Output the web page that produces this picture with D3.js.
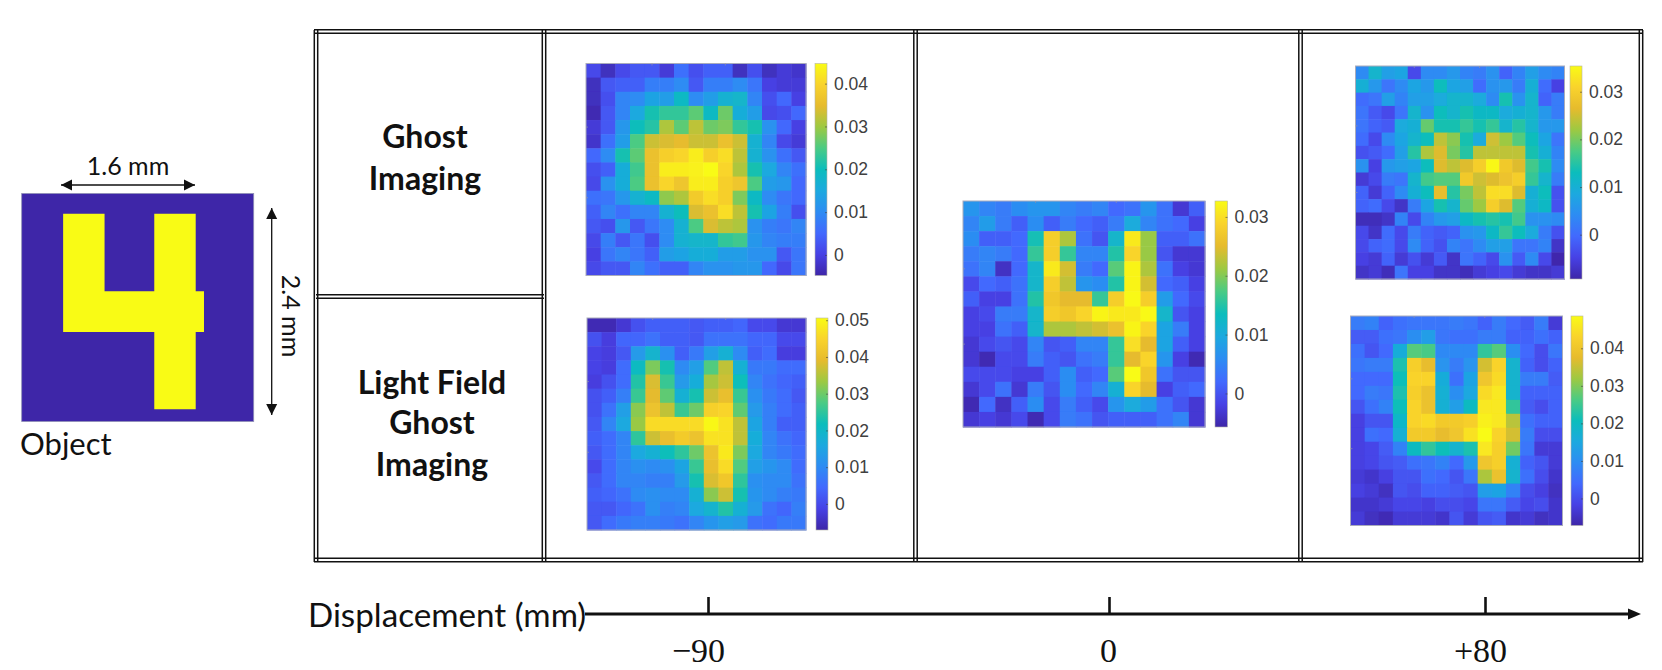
<!DOCTYPE html>
<html>
<head>
<meta charset="utf-8">
<script src="https://cdn.jsdelivr.net/npm/d3@7"></script>
<style>
  html, body { margin: 0; background: #fff; }
  svg { display: block; }
  .label { font-family: Lato, sans-serif; fill: #111; }
  .cbar text { font-family: "Liberation Sans", Arial, sans-serif; font-size: 17.5px; fill: #404040; }
  .cbar path { display: none; }
  .cbar line { stroke: #404040; stroke-width: .6; }
  .frame line { stroke: #111; stroke-width: 1.5; }
  .imgbox { fill: none; stroke: #a9abbb; stroke-width: 1; }
  .minor path { display: none; }
  .minor line { stroke: #8f90a8; stroke-width: .7; }
</style>
</head>
<body>
<svg id="chart" width="1662" height="670"></svg>
<script>
const ghostMinus90 = [
  [1,-3,1,3,3,-1,6,2,4,4,-3,2,-3,-1,-2],
  [-3,3,4,4,8,8,10,3,8,8,10,7,0,-1,-1],
  [-3,2,9,10,14,13,19,10,13,17,18,9,2,5,0],
  [-4,3,9,15,21,23,23,26,19,27,16,13,1,2,5],
  [-1,3,12,20,22,31,26,32,27,28,23,21,11,5,0],
  [-2,6,13,25,33,34,35,33,33,36,33,17,9,1,-1],
  [5,10,21,26,36,39,40,43,39,41,32,17,11,6,3],
  [2,4,16,24,36,43,43,43.5,44.7,40,31,21,15,9,6],
  [1,11,16,25,36,40,37,43,43,39,37,25,13,12,5],
  [6,7,12,17,19,29,31,38,41,39,28,19,10,7,5],
  [4,9,6,9,9,17,20,34,36,41,32,21,14,8,2],
  [3,2,12,3,7,10,17,25,34,32,31,11,8,7,9],
  [1,8,3,7,2,10,17,18,18,23,24,12,9,8,8],
  [0,7,9,7,4,13,14,16,16,13,13,11,11,3,7],
  [1,3,3,9,6,4,4,9,11,11,12,12,5,1,7]
];
const lightFieldMinus90 = [
  [-6,-6,-3,1,3,3,3,2,3,3,4,0,0,-3,-3],
  [1,-2,4,4,6,3,3,2,6,6,6,4,4,0,0],
  [-1,-2,2,13,19,11,3,7,14,18,10,3,5,-2,-2],
  [-1,-2,5,21,31,23,10,14,28,36,18,7,7,5,5],
  [-2,1,5,24,38,26,13,17,34,37,22,9,6,4,3],
  [1,3,8,26,39,29,18,23,37,40,26,11,7,5,2],
  [1,6,14,32,41,36,26,30,44,45,29,13,8,5,3],
  [2,9,16,33,46,46,46,46,50,47,36,15,8,3,3],
  [3,5,9,25,37,40,43,41,47,47,36,17,9,6,4],
  [2,5,9,16,18,22,25,30,41,48,31,16,9,7,5],
  [0,5,9,11,10,11,15,26,40,46,28,14,12,10,5],
  [2,5,9,9,8,8,13,23,38,42,25,11,10,10,6],
  [3,4,6,10,11,10,10,18,32,37,23,12,10,8,7],
  [2,2,4,6,11,8,9,16,19,24,18,13,6,4,8],
  [2,5,7,8,8,7,6,9,12,14,13,6,5,7,7]
];
const focusZero = [
  [7,5,4,6,7,7,5,4,5,2,3,7,3,-3,1],
  [5,8,4,1,6,1,4,2,1,4,10,5,3,2,-2],
  [6,1,1,2,14,28,22,3,0,12,31,21,1,1,3],
  [4,5,4,2,16,28,16,5,5,15,29,21,0,-3,-3],
  [3,5,-4,2,12,31,24,4,2,18,32,22,3,-2,-3],
  [-1,2,1,3,12,28,23,7,6,15,32,24,2,1,-2],
  [1,-2,-2,3,15,27,25,25,16,28,32.5,28,8,2,-1],
  [-2,-1,4,4,12,28,27,29,32,31,31,32.5,12,0,-2],
  [-2,-2,3,1,12,22,22,23,24,26,32,29,9,4,-2],
  [-3,-1,0,-1,5,0,1,5,5,16,30,25,9,1,-2],
  [-3,-5,-1,-1,4,1,0,3,4,16,25,29,7,-2,-5],
  [-1,-1,-1,-2,-2,1,6,1,2,18,32.7,27,3,0,0],
  [-3,-1,3,-3,4,0,6,2,5,11,29,25,-2,1,2],
  [-5,2,-4,1,6,-1,4,1,-1,7,10,8,3,0,-3],
  [-3,-2,-3,-1,-5,-1,4,3,0,1,1,1,3,5,-3]
];
const ghostPlus80 = [
  [4,11,7,8,-4,4,4,6,3,2,5,-1,3,7,4,3],
  [10,6,1,4,8,6,13,8,7,0,5,6,2,10,0,-5],
  [0,1,7,3,7,7,9,11,11,9,4,14,5,11,-1,2],
  [1,-2,-4,1,11,5,13,11,14,12,12,9,10,11,6,2],
  [1,-1,-2,9,10,19,14,14,16,14,16,11,15,11,6,6],
  [0,-4,4,8,11,13,24,21,14,9,25,22,18,13,8,1],
  [-3,-2,0,7,15,23,26,20,15,24,24,24,24,14,10,3],
  [5,-5,6,7,8,13,26,24,26,30,35,29,26,17,14,4],
  [-6,-4,2,1,11,17,18,18,29,25,26,28,30,16,11,2],
  [-1,-6,-1,4,10,13,27,15,20,24,32,32,26,10,13,-3],
  [-1,0,-4,-7,2,8,14,11,19,22,30,26,18,10,12,-3],
  [-8,-8,-7,3,-4,3,6,7,12,14,15,14,17,5,5,4],
  [-4,-7,0,-4,2,-1,-2,-1,5,6,12,16,13,9,2,-3],
  [-4,-1,0,-4,4,-1,-3,3,1,4,7,7,1,1,3,-7],
  [-5,-6,-1,-6,-3,-6,-2,-7,1,-1,-4,5,-2,4,-4,-9],
  [-7,-6,-8,1,-5,-5,-7,-7,-8,-6,-5,-4,-6,-7,-7,-6]
];
const lightFieldPlus80 = [
  [7,8,3,5,6,6,6,7,6,3,7,4,2,7,-3],
  [2,2,5,6,10,13,6,5,5,7,7,3,3,5,3],
  [5,1,4,16,27,26,9,9,9,24,27,10,4,0,6],
  [6,7,7,22,42,38,11,7,11,36,43,18,3,0,3],
  [4,4,4,21,43,43,16,5,14,40,44,18,7,7,2],
  [4,7,6,22,42,39,17,10,15,44,46,18,3,3,3],
  [1,5,8,21,43,39,17,13,20,46,46,24,2,0,3],
  [-2,1,1,19,43,44,41,41,42,47,46,34,5,3,3],
  [-2,5,4,17,41,41,38,40,45,48.6,43,36,7,0,0],
  [-2,-1,2,8,20,24,21,18,22,46,42,29,6,-3,-3],
  [-2,-1,1,2,5,6,8,4,12,40,42,17,3,1,-3],
  [-3,-4,-2,1,1,5,4,1,6,33,39,18,5,0,-4],
  [-2,-3,-5,1,0,3,3,2,1,13,14,8,0,-2,-5],
  [-4,-4,-3,-1,-1,-2,0,0,-1,6,6,2,-1,0,-4],
  [-3,-5,-6,-3,-3,-3,-4,1,-3,1,2,-4,-3,-5,-4]
];

const ticks015 = [0, 10, 20, 30, 40];
const ticks05 = [0, 10, 20, 30, 40, 50];
const ticks03 = [0, 10, 20, 30];

// digit 4 outline of the object, in pixels of the 28 x 56 object grid
const objectOutline = [[5,5],[10,5],[10,24],[16,24],[16,5],[21,5],[21,24],[22,24],[22,34],[21,34],[21,53],[16,53],[16,34],[5,34]];

const displacements = [-90, 0, 80];
const displacementPx = [708, 1109, 1485];

const parula = ['#3e26a8','#4741e5','#4269fe','#2d8cf3','#1ca9df','#0bbdbc','#4acb84','#9dc942','#e6bb2d','#f9d32c','#f9fb15'];

const panels = [
  { values: ghostMinus90, domain: [-4.8, 44.7], ticks: ticks015, x: 586, y: 63.5, w: 220, h: 212, bx: 815, bw: 12 },
  { values: lightFieldMinus90, domain: [-7.1, 50.6], ticks: ticks05, x: 587, y: 318, w: 219, h: 212, bx: 816, bw: 12 },
  { values: focusZero, domain: [-5.7, 32.7], ticks: ticks03, x: 963, y: 201, w: 242, h: 226, bx: 1215, bw: 12.5 },
  { values: ghostPlus80, domain: [-9.3, 35.4], ticks: ticks03, x: 1355.5, y: 66, w: 209, h: 213, bx: 1570, bw: 12 },
  { values: lightFieldPlus80, domain: [-7.2, 48.6], ticks: ticks015, x: 1350.5, y: 316, w: 212, h: 209.5, bx: 1571, bw: 12 }
];

const svg = d3.select('#chart');
const defs = svg.append('defs');

defs.append('filter').attr('id', 'soft')
  .attr('x', 0).attr('y', 0).attr('width', 1).attr('height', 1)
  .append('feGaussianBlur').attr('stdDeviation', 0.5).attr('edgeMode', 'duplicate');

const grad = defs.append('linearGradient').attr('id', 'parulaBar')
  .attr('x1', 0).attr('x2', 0).attr('y1', 1).attr('y2', 0);
grad.selectAll('stop').data(parula).join('stop')
  .attr('offset', (d, i) => i / (parula.length - 1))
  .attr('stop-color', d => d);

const colorAt = d3.scaleLinear()
  .domain(parula.map((d, i) => i / (parula.length - 1)))
  .range(parula);

function drawPanel(p) {
  const n = p.values.length;
  const x = d3.scaleBand().domain(d3.range(n)).range([p.x, p.x + p.w]);
  const y = d3.scaleBand().domain(d3.range(n)).range([p.y, p.y + p.h]);
  const color = v => colorAt((v - p.domain[0]) / (p.domain[1] - p.domain[0]));

  svg.append('g').attr('filter', 'url(#soft)')
    .selectAll('g').data(p.values).join('g')
    .attr('transform', (d, i) => `translate(0,${y(i)})`)
    .selectAll('rect').data(d => d).join('rect')
    .attr('x', (d, i) => x(i))
    .attr('width', x.bandwidth() + .5)
    .attr('height', y.bandwidth() + .5)
    .attr('fill', d => color(d));

  svg.append('rect').attr('class', 'imgbox')
    .attr('x', p.x).attr('y', p.y).attr('width', p.w).attr('height', p.h);

  // little ticks of the image axes
  const tickCells = [4, 9];
  svg.append('g').attr('class', 'minor').attr('transform', `translate(0,${p.y})`)
    .call(d3.axisTop(x).tickValues(tickCells).tickSize(-2).tickFormat(''));
  svg.append('g').attr('class', 'minor').attr('transform', `translate(${p.x},0)`)
    .call(d3.axisLeft(y).tickValues(tickCells).tickSize(-2).tickFormat(''));

  // colour bar
  const barScale = d3.scaleLinear().domain(p.domain).range([p.y + p.h, p.y]);
  svg.append('rect')
    .attr('x', p.bx).attr('y', p.y).attr('width', p.bw).attr('height', p.h)
    .attr('fill', 'url(#parulaBar)').attr('stroke', '#b5b5a8').attr('stroke-width', .6);
  svg.append('g').attr('class', 'cbar').attr('transform', `translate(${p.bx + p.bw},0)`)
    .call(d3.axisRight(barScale).tickValues(p.ticks).tickSize(-2).tickPadding(7)
      .tickFormat(d => d === 0 ? '0' : d3.format('.2f')(d / 1000)));
}
panels.forEach(drawPanel);

// object picture
const objX = d3.scaleLinear().domain([0, 28]).range([21.7, 253.7]);
const objY = d3.scaleLinear().domain([0, 56]).range([193.5, 421.5]);
svg.append('rect').attr('x', objX(0)).attr('y', objY(0))
  .attr('width', objX(28) - objX(0)).attr('height', objY(56) - objY(0))
  .attr('fill', '#3e26a8').attr('stroke', '#8f8fb5').attr('stroke-width', .8);
svg.append('path')
  .attr('d', d3.line().x(d => objX(d[0])).y(d => objY(d[1])).curve(d3.curveLinearClosed)(objectOutline))
  .attr('fill', '#f9fb15');

function arrow(x1, y1, x2, y2) {
  svg.append('line').attr('x1', x1).attr('y1', y1).attr('x2', x2).attr('y2', y2)
    .attr('stroke', '#111').attr('stroke-width', 1.3);
  const head = (xa, ya, dx, dy) => svg.append('path')
    .attr('d', `M${xa},${ya}L${xa - dx * 11 - dy * 5.5},${ya - dy * 11 - dx * 5.5}L${xa - dx * 11 + dy * 5.5},${ya - dy * 11 + dx * 5.5}Z`)
    .attr('fill', '#111');
  const len = Math.hypot(x2 - x1, y2 - y1);
  const ux = (x2 - x1) / len, uy = (y2 - y1) / len;
  head(x2, y2, ux, uy);
  head(x1, y1, -ux, -uy);
}
arrow(61, 185, 195, 185);
arrow(271.7, 208, 271.7, 415);

function label(text, x, y, size, opts = {}) {
  return svg.append('text').attr('class', 'label')
    .attr('x', x).attr('y', y)
    .attr('text-anchor', opts.anchor || 'middle')
    .attr('font-size', size)
    .attr('font-weight', opts.weight || 400)
    .attr('transform', opts.rotate ? `rotate(${opts.rotate} ${x} ${y})` : null)
    .text(text);
}
label('1.6 mm', 128, 175, 25);
label('2.4 mm', 282, 316, 25, { rotate: 90 });
label('Object', 20, 455, 31, { anchor: 'start' });

// table frame, every rule is doubled
const frame = svg.append('g').attr('class', 'frame');
function hrule(x1, x2, y) {
  [y - 1.7, y + 1.7].forEach(v => frame.append('line').attr('x1', x1).attr('x2', x2).attr('y1', v).attr('y2', v));
}
function vrule(x, y1, y2) {
  [x - 1.7, x + 1.7].forEach(v => frame.append('line').attr('x1', v).attr('x2', v).attr('y1', y1).attr('y2', y2));
}
hrule(314, 1643, 31.5);
hrule(314, 1643, 560);
hrule(316, 544, 296.5);
vrule(316, 30, 562);
vrule(544, 30, 562);
vrule(915.5, 30, 562);
vrule(1300.5, 30, 562);
vrule(1641, 30, 562);

label('Ghost', 425, 148, 32, { weight: 700 });
label('Imaging', 425, 190, 32, { weight: 700 });
label('Light Field', 432, 394, 32, { weight: 700 });
label('Ghost', 432, 434, 32, { weight: 700 });
label('Imaging', 432, 476, 32, { weight: 700 });

// displacement axis
const xDisp = d3.scaleLinear().domain(displacements).range(displacementPx);
const axisG = svg.append('g').attr('transform', 'translate(0,614)')
  .call(d3.axisBottom(xDisp).tickValues(displacements).tickSize(-17).tickPadding(24)
    .tickFormat(d => d > 0 ? '+' + d : d < 0 ? '\u2212' + (-d) : '0'));
axisG.select('.domain').remove();
axisG.selectAll('line').attr('stroke', '#111').attr('stroke-width', 2.6);
axisG.selectAll('text').attr('font-family', '"Liberation Serif", serif').attr('font-size', 34).attr('fill', '#111');
axisG.selectAll('.tick text').attr('dx', d => d === 0 ? -1 : d < 0 ? -10 : -5);

svg.append('line').attr('x1', 585).attr('x2', 1630).attr('y1', 614).attr('y2', 614)
  .attr('stroke', '#111').attr('stroke-width', 3);
svg.append('path').attr('d', 'M1641,614L1628,608.5L1628,619.5Z').attr('fill', '#111');

label('Displacement (mm)', 308, 627, 33.2, { anchor: 'start' });
</script>
</body>
</html>
